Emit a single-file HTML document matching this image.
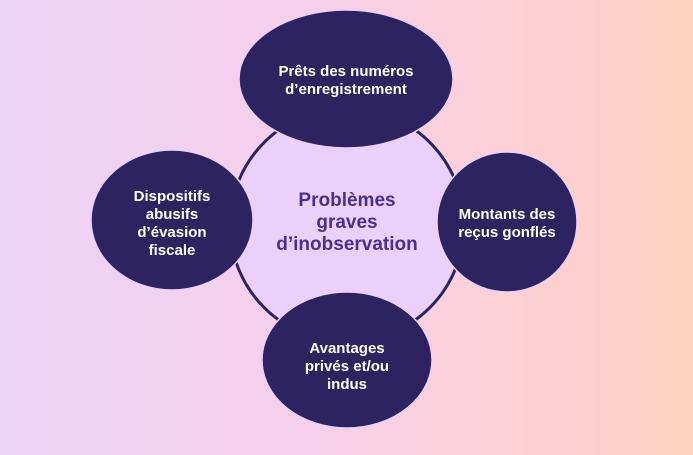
<!DOCTYPE html>
<html><head><meta charset="utf-8"><style>
html,body{margin:0;padding:0;}
body{width:693px;height:450px;overflow:hidden;background:linear-gradient(90deg,#ecd2f7 0%,#f6d0ea 45%,#fcd0d4 75%,#fdd0bf 100%);}
text{font-family:"Liberation Sans",sans-serif;font-weight:bold;}
</style></head><body>
<svg width="693" height="450" xmlns="http://www.w3.org/2000/svg">
<circle cx="347" cy="225" r="117" fill="#ead0fb" stroke="#2d2361" stroke-width="3"/>
<g fill="#2d2361" stroke="#ead0fb" stroke-width="1.5">
<ellipse cx="346" cy="79" rx="107" ry="69"/>
<ellipse cx="172" cy="220" rx="81" ry="70"/>
<ellipse cx="507" cy="222" rx="70" ry="70"/>
<ellipse cx="347" cy="360" rx="85" ry="68"/>
</g>
<g fill="#ffffff" font-size="15" text-anchor="middle">
<text x="346" y="76">Prêts des numéros</text>
<text x="346" y="94">d’enregistrement</text>
<text x="172" y="201">Dispositifs</text>
<text x="172" y="219">abusifs</text>
<text x="172" y="237">d’évasion</text>
<text x="172" y="255">fiscale</text>
<text x="507" y="219">Montants des</text>
<text x="507" y="237">reçus gonflés</text>
<text x="347" y="353">Avantages</text>
<text x="347" y="371">privés et/ou</text>
<text x="347" y="389">indus</text>
</g>
<g fill="#4a2f8f" font-size="19" text-anchor="middle">
<text x="347" y="206">Problèmes</text>
<text x="347" y="228">graves</text>
<text x="347" y="250">d’inobservation</text>
</g>
</svg>
</body></html>
